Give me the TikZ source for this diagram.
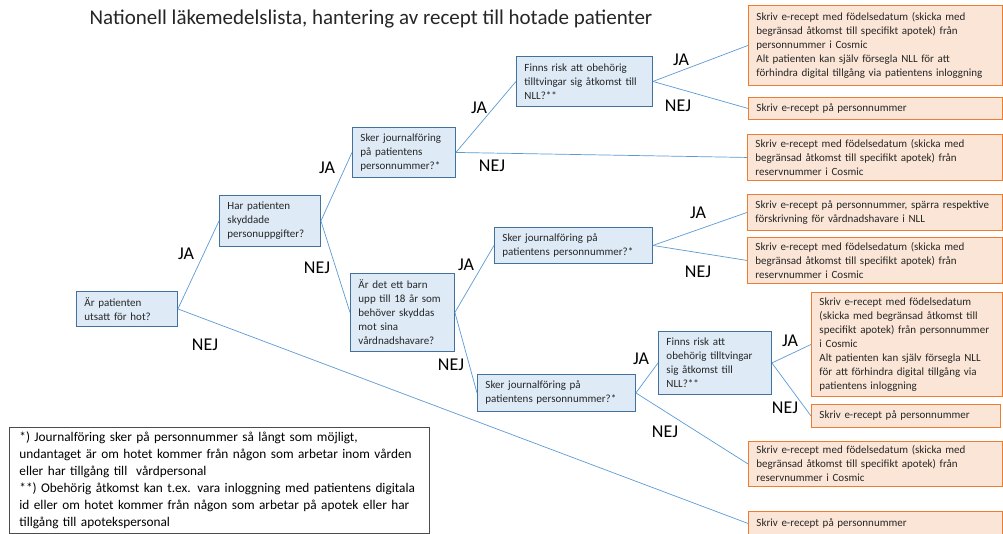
\documentclass[tikz,border=0pt]{standalone}
\usepackage{fontspec}
\setmainfont{Carlito}
\definecolor{bfill}{HTML}{DEEBF7}
\definecolor{bdraw}{HTML}{41719C}
\definecolor{ofill}{HTML}{FBE5D6}
\definecolor{odraw}{HTML}{ED7D31}
\definecolor{connc}{HTML}{5B9BD5}
\definecolor{txt}{HTML}{262626}
\begin{document}
\begin{tikzpicture}[x=1pt,y=-1pt,
  box/.style={draw, line width=0.9pt, anchor=north west, align=left, inner xsep=8pt, inner ysep=0pt, font=\fontsize{11}{14}\selectfont, text=txt},
  qbox/.style={box, fill=bfill, draw=bdraw},
  abox/.style={box, fill=ofill, draw=odraw},
  link/.style={draw=connc, line width=0.7pt},
  lab/.style={font=\fontsize{18}{20}\selectfont, text=black, inner sep=0pt}]
\useasboundingbox (0,0) rectangle (1003,534);
\fill[white] (0,0) rectangle (1003,534);

\node[font=\fontsize{21}{24}\selectfont, text=txt] (title) at (371,19) {Nationell läkemedelslista, hantering av recept till hotade patienter};

% question boxes
\node[qbox, text width=85, minimum height=35] (b1) at (76,291) {Är patienten\\utsatt för hot?};
\node[qbox, text width=85, minimum height=51] (b2) at (219,195) {Har patienten\\skyddade\\personuppgifter?};
\node[qbox, text width=87, minimum height=50] (b3) at (352,127) {Sker journalföring\\på patientens\\personnummer?*};
\node[qbox, text width=120, minimum height=50] (b4) at (516,56) {Finns risk att obehörig\\tilltvingar sig åtkomst till\\NLL?**};
\node[qbox, text width=88, minimum height=78] (b5) at (350,273) {Är det ett barn\\upp till 18 år som\\behöver skyddas\\mot sina\\vårdnadshavare?};
\node[qbox, text width=142, minimum height=36] (b6) at (494,227) {Sker journalföring på\\patientens personnummer?*};
\node[qbox, text width=142, minimum height=37] (b7) at (477,374) {Sker journalföring på\\patientens personnummer?*};
\node[qbox, text width=97, minimum height=63] (b8) at (658,331) {Finns risk att\\obehörig tilltvingar\\sig åtkomst till\\NLL?**};

% answer boxes
\node[abox, text width=238, minimum height=80] (o1) at (748,5) {Skriv e-recept med födelsedatum (skicka med\\begränsad åtkomst till specifikt apotek) från\\personnummer i Cosmic\\Alt patienten kan själv försegla NLL för att\\förhindra digital tillgång via patientens inloggning};
\node[abox, text width=238, minimum height=22] (o2) at (748,97) {Skriv e-recept på personnummer};
\node[abox, text width=239, minimum height=46] (o3) at (747,134) {Skriv e-recept med födelsedatum (skicka med\\begränsad åtkomst till specifikt apotek) från\\reservnummer i Cosmic};
\node[abox, text width=239, minimum height=36] (o4) at (747,194) {Skriv e-recept på personnummer, spärra respektive\\förskrivning för vårdnadshavare i NLL};
\node[abox, text width=239, minimum height=46] (o5) at (747,237) {Skriv e-recept med födelsedatum (skicka med\\begränsad åtkomst till specifikt apotek) från\\reservnummer i Cosmic};
\node[abox, text width=175, minimum height=104] (o6) at (811,292) {Skriv e-recept med födelsedatum\\(skicka med begränsad åtkomst till\\specifikt apotek) från personnummer\\i Cosmic\\Alt patienten kan själv försegla NLL\\för att förhindra digital tillgång via\\patientens inloggning};
\node[abox, text width=173, minimum height=23] (o7) at (811,404) {Skriv e-recept på personnummer};
\node[abox, text width=238, minimum height=45] (o8) at (748,441) {Skriv e-recept med födelsedatum (skicka med\\begränsad åtkomst till specifikt apotek) från\\reservnummer i Cosmic};
\node[abox, text width=238, minimum height=24] (o9) at (748,511) {Skriv e-recept på personnummer};

% footnote
\node[draw=black!70, line width=0.8pt, fill=white, anchor=north west, align=left, text width=400, inner xsep=10pt, inner ysep=0pt, minimum height=106, font=\fontsize{13.3}{17}\selectfont, text=black] (note) at (9,427) {*) Journalföring sker på personnummer så långt som möjligt,\\undantaget är om hotet kommer från någon som arbetar inom vården\\eller har tillgång till\ \ vårdpersonal\\{}**) Obehörig åtkomst kan t.ex. vara inloggning med patientens digitala\\id eller om hotet kommer från någon som arbetar på apotek eller har\\tillgång till apotekspersonal};

% connectors
\draw[link] (b1.east) -- (b2.west);
\draw[link] (b1.east) -- (o9.west);
\draw[link] (b2.east) -- (b3.west);
\draw[link] (b2.east) -- (b5.west);
\draw[link] (b3.east) -- (b4.west);
\draw[link] (b3.east) -- (o3.west);
\draw[link] (b4.east) -- (o1.west);
\draw[link] (b4.east) -- (o2.west);
\draw[link] (b5.east) -- (b6.west);
\draw[link] (b5.east) -- (b7.west);
\draw[link] (b6.east) -- (o4.west);
\draw[link] (b6.east) -- (o5.west);
\draw[link] (b7.east) -- (b8.west);
\draw[link] (b7.east) -- (o8.west);
\draw[link] (b8.east) -- (o6.west);
\draw[link] (b8.east) -- (o7.west);

% labels
\node[lab] (l1) at (186,254) {JA};
\node[lab] (l2) at (205,345) {NEJ};
\node[lab] (l3) at (327,168) {JA};
\node[lab] (l4) at (317,268) {NEJ};
\node[lab] (l5) at (479,108) {JA};
\node[lab] (l6) at (492,166) {NEJ};
\node[lab] (l7) at (681,60) {JA};
\node[lab] (l8) at (678,106) {NEJ};
\node[lab] (l9) at (466,265) {JA};
\node[lab] (l10) at (451,365) {NEJ};
\node[lab] (l11) at (698,213) {JA};
\node[lab] (l12) at (698,272) {NEJ};
\node[lab] (l13) at (641,359) {JA};
\node[lab] (l14) at (665,432) {NEJ};
\node[lab] (l15) at (790,341) {JA};
\node[lab] (l16) at (785,408) {NEJ};
\end{tikzpicture}
\end{document}
